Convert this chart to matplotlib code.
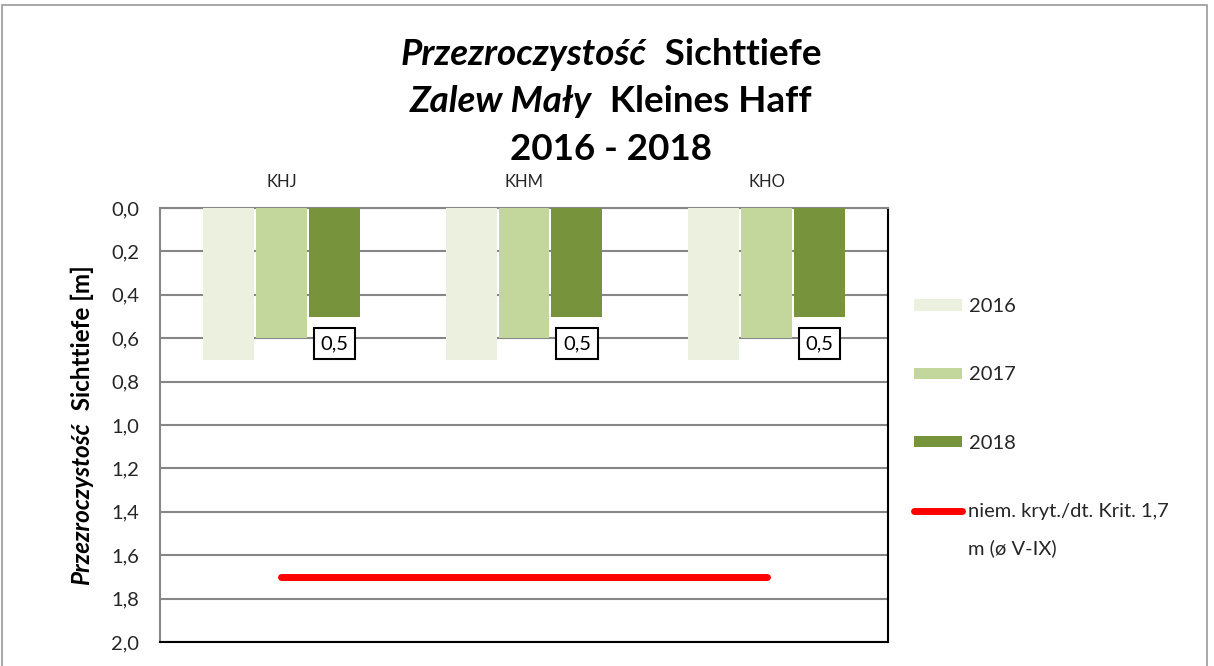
import numpy as np
import matplotlib
matplotlib.use("Agg")
from matplotlib import pyplot as plt
from matplotlib.patches import Rectangle, Patch
from matplotlib.lines import Line2D
from matplotlib.text import Annotation
from matplotlib.ticker import FuncFormatter, MultipleLocator

plt.rcParams['font.family'] = ['Lato', 'DejaVu Sans']

# ── data ────────────────────────────────────────────────────────────
stations = ['KHJ', 'KHM', 'KHO']
years = ['2016', '2017', '2018']
depth_2016 = [0.7, 0.7, 0.7]
depth_2017 = [0.6, 0.6, 0.6]
depth_2018 = [0.5, 0.5, 0.5]
critical = [1.7, 1.7, 1.7]
critical_label = ['niem. kryt./dt. Krit. 1,7', 'm (ø V-IX)']

colors = ['#EBF1DE', '#C3D69B', '#77933C']
series = [depth_2016, depth_2017, depth_2018]

W, H = 1214, 666
fig = plt.figure(figsize=(W / 100, H / 100), dpi=100)
ax = fig.add_axes([160 / W, 1 - 642 / H, 728 / W, 434 / H])

x = np.arange(len(stations))
bw = 0.21
step = 0.218
for i, (vals, c, yr) in enumerate(zip(series, colors, years)):
    ax.bar(x + (i - 1) * step, vals, width=bw, color=c, label=yr, zorder=3)

# data labels only on 2018
comma = lambda v: f"{v:.1f}".replace('.', ',')
for xi, v in zip(x, depth_2018):
    ax.annotate(comma(v), (xi + step, v),
                xytext=(0, -19.5), textcoords='offset points',
                ha='center', va='center', fontsize=14.5, zorder=5,
                bbox=dict(boxstyle='square,pad=0.33', fc='white',
                          ec='black', lw=1.5))

ax.plot(x, critical, color='#FF0000', lw=5, solid_capstyle='round', zorder=4)

ax.set_xlim(-0.5, 2.5)
ax.set_ylim(2.0, 0.0)
ax.yaxis.set_major_locator(MultipleLocator(0.2))
ax.yaxis.set_major_formatter(FuncFormatter(lambda v, p: comma(v)))
ax.tick_params(axis='y', length=0, labelsize=14.5, pad=15, colors='#262626')
ax.xaxis.tick_top()
ax.set_xticks(x)
ax.set_xticklabels(stations)
ax.tick_params(axis='x', length=0, labelsize=12, pad=13, colors='#262626')
ax.grid(axis='y', color='#868686', lw=1.5, zorder=0)
ax.set_axisbelow(True)
for side in ['left', 'top']:
    ax.spines[side].set_color('#868686')
    ax.spines[side].set_linewidth(1.5)
for side in ['right', 'bottom']:
    ax.spines[side].set_color('#000000')
    ax.spines[side].set_linewidth(1.5)

# legend (second line of the last label hangs below the first one)
handles = [Patch(facecolor=c, edgecolor='none') for c in colors]
handles.append(Line2D([0], [0], color='#FF0000', lw=5, solid_capstyle='round'))
leg = fig.legend(handles, years + [critical_label[0]], loc='upper left',
                 bbox_to_anchor=(896 / W, 1 - 280 / H), frameon=False,
                 fontsize=14.5, handlelength=2.4, handleheight=0.5,
                 labelspacing=2.55, handletextpad=0.3, labelcolor='#262626')
fig.add_artist(Annotation(
    critical_label[1], xy=(0, 0), xycoords=leg.get_texts()[3], xytext=(0, -20),
    textcoords='offset points', ha='left', va='center', fontsize=14.5,
    color='#262626', zorder=10))


def rich_text(pieces, cx, by, size):
    """Draw text pieces (string, style) as one centred line, baseline at pixel by."""
    texts = [fig.text(0, 0, s, fontsize=size, fontweight='bold', style=st,
                      va='baseline', ha='left', color='#000000')
             for s, st in pieces]
    r = fig.canvas.get_renderer()
    widths = [t.get_window_extent(r).width for t in texts]
    pos = cx - sum(widths) / 2
    for t, w in zip(texts, widths):
        t.set_position((pos / W, 1 - by / H))
        pos += w


rich_text([('Przezroczystość', 'italic'), ('  Sichttiefe', 'normal')], 611, 65, 26.5)
rich_text([('Zalew Mały', 'italic'), ('  Kleines Haff', 'normal')], 611, 112, 26.5)
rich_text([('2016 - 2018', 'normal')], 611, 160, 26.5)

# y label: rotated, reading bottom to top
r = fig.canvas.get_renderer()
t1 = fig.text(0, 0, 'Przezroczystość', fontsize=17.5, fontweight='bold',
              style='italic', rotation=90, ha='center', va='bottom')
t2 = fig.text(0, 0, '  Sichttiefe [m]', fontsize=17.5, fontweight='bold',
              rotation=90, ha='center', va='bottom')
h1 = t1.get_window_extent(r).height
h2 = t2.get_window_extent(r).height
y0 = 425 + (h1 + h2) / 2
t1.set_position((82 / W, 1 - y0 / H))
t2.set_position((82 / W, 1 - (y0 - h1) / H))

fig.patches.append(Rectangle((2 / W, -0.02), 1205 / W, 1 - 5 / H + 0.02,
                             transform=fig.transFigure, fill=False,
                             ec='#9a9a9a', lw=1.2))

fig.savefig('out.png', dpi=100, facecolor='white')
